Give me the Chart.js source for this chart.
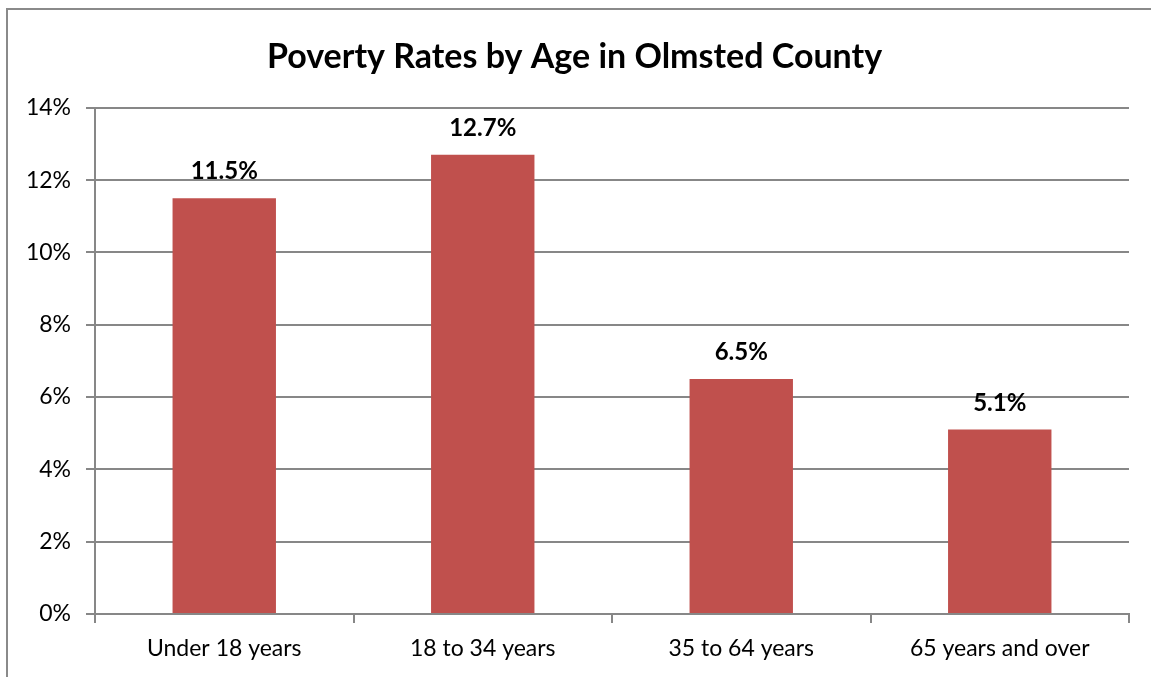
<!DOCTYPE html>
<html>
<head>
<meta charset="utf-8">
<script src="https://cdn.jsdelivr.net/npm/chart.js@4"></script>
<style>
  html, body { margin: 0; padding: 0; background: #fff; }
  #wrap { width: 1151px; height: 677px; position: relative; }
</style>
</head>
<body>
<div id="wrap"><canvas id="chart"></canvas></div>
<script>
const categories = ['Under 18 years', '18 to 34 years', '35 to 64 years', '65 years and over'];
const povertyRates = [11.5, 12.7, 6.5, 5.1];
const yTicks = [0, 2, 4, 6, 8, 10, 12, 14];

const FONT = 'Lato, "Open Sans", sans-serif';
const GRID = '#878787';

// outer frame of the chart box, like the spreadsheet export
const framePlugin = {
  id: 'frame',
  beforeDraw(chart) {
    const ctx = chart.ctx;
    ctx.save();
    ctx.strokeStyle = '#8a8a8a';
    ctx.lineWidth = 2;
    ctx.beginPath();
    ctx.moveTo(7, chart.height);
    ctx.lineTo(7, 9);
    ctx.lineTo(chart.width, 9);
    ctx.stroke();
    ctx.restore();
  }
};

// bold value labels above each bar
const valueLabels = {
  id: 'valueLabels',
  afterDatasetsDraw(chart) {
    const ctx = chart.ctx;
    const meta = chart.getDatasetMeta(0);
    ctx.save();
    ctx.font = 'bold 24px ' + FONT;
    ctx.fillStyle = '#000';
    ctx.textAlign = 'center';
    ctx.textBaseline = 'alphabetic';
    meta.data.forEach((bar, i) => {
      ctx.fillText(povertyRates[i].toFixed(1) + '%', bar.x, bar.y - 19);
    });
    ctx.restore();
  }
};

new Chart(document.getElementById('chart'), {
  type: 'bar',
  data: {
    labels: categories,
    datasets: [{
      data: povertyRates,
      backgroundColor: '#C0504D',
      borderWidth: 0,
      categoryPercentage: 1,
      barPercentage: 0.4
    }]
  },
  options: {
    responsive: true,
    maintainAspectRatio: false,
    animation: false,
    layout: { padding: { left: 20, right: 22, top: 0, bottom: 0 } },
    plugins: {
      legend: { display: false },
      tooltip: { enabled: false },
      title: {
        display: true,
        text: 'Poverty Rates by Age in Olmsted County',
        color: '#000',
        font: { family: FONT, size: 34, weight: 'bold', lineHeight: 1.2 },
        padding: { top: 37, bottom: 30 }
      }
    },
    scales: {
      x: {
        offset: true,
        grid: { display: true, offset: true, drawOnChartArea: false, drawTicks: true, tickLength: 9, color: GRID, lineWidth: 2 },
        border: { display: true, color: GRID, width: 2 },
        ticks: { color: '#000', font: { family: FONT, size: 23 }, padding: 12, maxRotation: 0 },
        afterFit(scale) { scale.height = 63; }
      },
      y: {
        min: 0,
        max: 14,
        afterBuildTicks(scale) { scale.ticks = yTicks.map(v => ({ value: v })); },
        grid: { color: GRID, lineWidth: 2, tickLength: 9 },
        border: { display: true, color: GRID, width: 2 },
        ticks: {
          color: '#000',
          font: { family: FONT, size: 23 },
          padding: 15,
          callback: v => v + '%'
        },
        afterFit(scale) { scale.width = 75; }
      }
    }
  },
  plugins: [framePlugin, valueLabels]
});
</script>
</body>
</html>
